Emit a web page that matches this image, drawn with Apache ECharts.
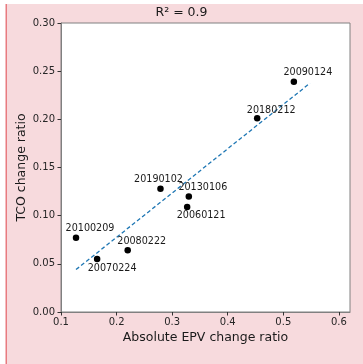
<!DOCTYPE html>
<html><head><meta charset="utf-8">
<script src="https://cdn.jsdelivr.net/npm/echarts@6/dist/echarts.min.js"></script>
<style>html,body{margin:0;padding:0;background:#fff}#c{width:363px;height:364px}</style>
</head><body><div id="c"></div>
<script>
const dates = ['20090124','20180212','20190102','20130106','20060121','20100209','20080222','20070224'];
const epv = [0.519, 0.453, 0.279, 0.330, 0.327, 0.127, 0.220, 0.165];
const tco = [0.239, 0.201, 0.128, 0.120, 0.109, 0.077, 0.064, 0.055];
const trendX = [0.127, 0.548];
const trendY = [0.044, 0.2375];
const xTicks = [0.1, 0.2, 0.3, 0.4, 0.5, 0.6];
const yTicks = [0.00, 0.05, 0.10, 0.15, 0.20, 0.25, 0.30];
const titleText = 'R\u00b2 = 0.9';

// label placement (style only)
const labelOffsets = {
  '20090124': [14, -9], '20180212': [14, -8], '20190102': [-2, -9], '20130106': [14, -9],
  '20060121': [14, 9], '20100209': [14, -9], '20080222': [14, -9], '20070224': [15, 9]
};

const font = 'DejaVu Sans';
const chart = echarts.init(document.getElementById('c'), null, {renderer: 'canvas'});
chart.setOption({
  animation: false,
  backgroundColor: '#ffffff',
  graphic: [
    {type: 'rect', z: -10, silent: true, shape: {x: 6, y: 4, width: 357, height: 360}, style: {fill: '#f7dadd'}},
    {type: 'rect', z: -9, silent: true, shape: {x: 5.5, y: 4, width: 1.5, height: 360}, style: {fill: '#e87b80'}}
  ],
  title: {text: titleText, left: 'center', top: 6, padding: 0,
    textStyle: {fontFamily: font, fontSize: 12.5, fontWeight: 'normal', color: '#1a1a1a'}},
  grid: {left: 61, right: 13, top: 23, bottom: 52, show: true, backgroundColor: '#ffffff',
    borderColor: '#808080', borderWidth: 1},
  xAxis: {
    type: 'value', min: 0.1, max: 0.62, interval: 0.1,
    name: 'Absolute EPV change ratio', nameLocation: 'middle', nameGap: 19, nameMoveOverlap: false,
    nameTextStyle: {fontFamily: font, fontSize: 12.5, color: '#1a1a1a'},
    axisLine: {show: true, lineStyle: {color: '#808080'}},
    axisTick: {show: true, length: 3.5, lineStyle: {color: '#333'}, customValues: xTicks},
    axisLabel: {fontFamily: font, fontSize: 10, color: '#262626', margin: 5,
      customValues: xTicks, formatter: v => v.toFixed(1)},
    splitLine: {show: false}
  },
  yAxis: {
    type: 'value', min: 0, max: 0.3, interval: 0.05,
    name: 'TCO change ratio', nameLocation: 'middle', nameGap: 33, nameRotate: 90, nameMoveOverlap: false,
    nameTextStyle: {fontFamily: font, fontSize: 12.5, color: '#1a1a1a'},
    axisLine: {show: true, lineStyle: {color: '#808080'}},
    axisTick: {show: true, length: 3.5, lineStyle: {color: '#333'}, customValues: yTicks},
    axisLabel: {fontFamily: font, fontSize: 10, color: '#262626', margin: 6,
      customValues: yTicks, formatter: v => v.toFixed(2)},
    splitLine: {show: false}
  },
  series: [
    {
      type: 'line', symbol: 'none', silent: true, z: 2,
      data: trendX.map((x, i) => [x, trendY[i]]),
      lineStyle: {color: '#1f77b4', width: 1.3, type: [4, 2.5]}
    },
    {
      type: 'scatter', symbolSize: 6.5, z: 3,
      itemStyle: {color: '#000000', opacity: 1},
      data: dates.map((d, i) => ({
        value: [epv[i], tco[i]],
        label: {show: true, formatter: d, position: 'inside', align: 'center', verticalAlign: 'middle',
          offset: labelOffsets[d], fontFamily: font, fontSize: 9.6, color: '#1a1a1a'}
      }))
    }
  ]
});
</script></body></html>
